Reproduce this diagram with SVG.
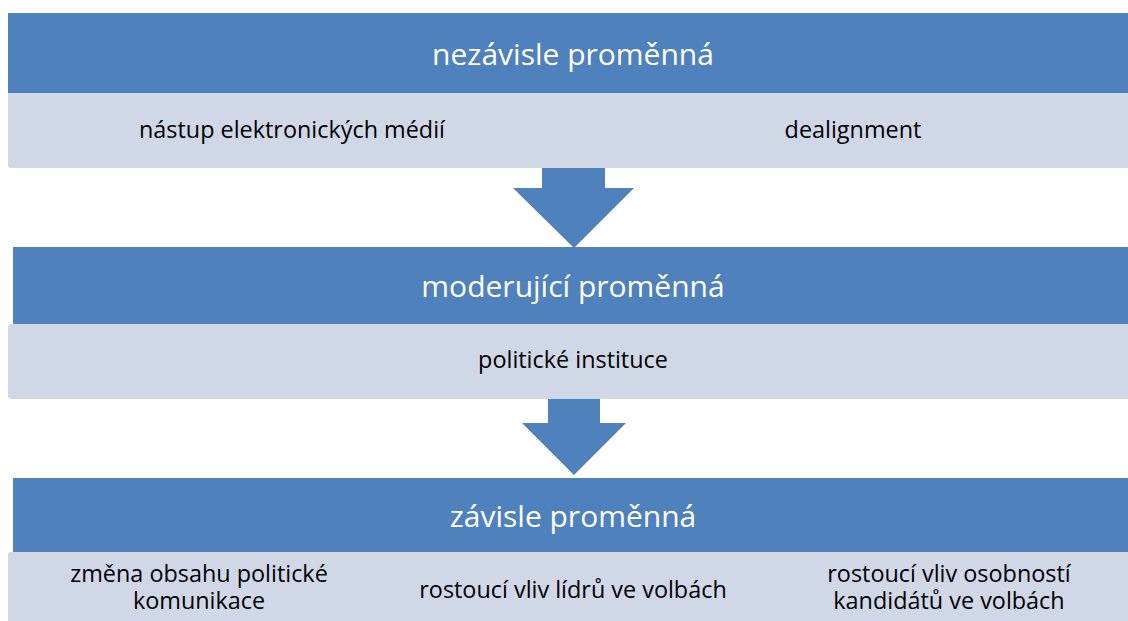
<svg xmlns="http://www.w3.org/2000/svg" width="1128" height="621" viewBox="0 0 1128 621">
<style>
.hdr{fill:#4F81BD}
.body{fill:#D0D8E8}
.arrow{fill:#4F81BD}
.ht{font-family:"Open Sans","Liberation Sans",Arial,sans-serif;font-size:30px;fill:#ffffff;text-anchor:middle}
.bt{font-family:"Open Sans","Liberation Sans",Arial,sans-serif;font-size:23.4px;fill:#000000;text-anchor:middle}
</style>
<rect width="1128" height="621" fill="#ffffff"/>
<g id="node-nezavisle">
<rect class="body" x="8" y="90" width="1130" height="78" rx="3"/>
<rect class="hdr" x="8" y="13" width="1130" height="80"/>
<text class="ht" x="573" y="65">nezávisle proměnná</text>
<text class="bt" x="292" y="138">nástup elektronických médií</text>
<text class="bt" x="853" y="138">dealignment</text>
</g>
<g id="node-moderujici">
<rect class="body" x="8" y="324" width="1130" height="75" rx="3"/>
<rect class="hdr" x="13" y="247" width="1125" height="77"/>
<text class="ht" x="573" y="297">moderující proměnná</text>
<text class="bt" x="573" y="368">politické instituce</text>
</g>
<g id="node-zavisle">
<rect class="body" x="8" y="552" width="1130" height="80" rx="3"/>
<rect class="hdr" x="13" y="478" width="1125" height="74"/>
<text class="ht" x="573" y="527">závisle proměnná</text>
<text class="bt" x="199" y="582"><tspan x="199">změna obsahu politické</tspan><tspan x="199" dy="27">komunikace</tspan></text>
<text class="bt" x="573" y="598">rostoucí vliv lídrů ve volbách</text>
<text class="bt" x="949" y="582"><tspan x="949">rostoucí vliv osobností</tspan><tspan x="949" dy="27">kandidátů ve volbách</tspan></text>
</g>
<g id="connectors">
<polygon class="arrow" points="542,168 605,168 605,188 634,188 574,248 513,188 542,188"/>
<polygon class="arrow" points="548,399 600,399 600,423 626,423 574,475 522,423 548,423"/>
</g>
</svg>
